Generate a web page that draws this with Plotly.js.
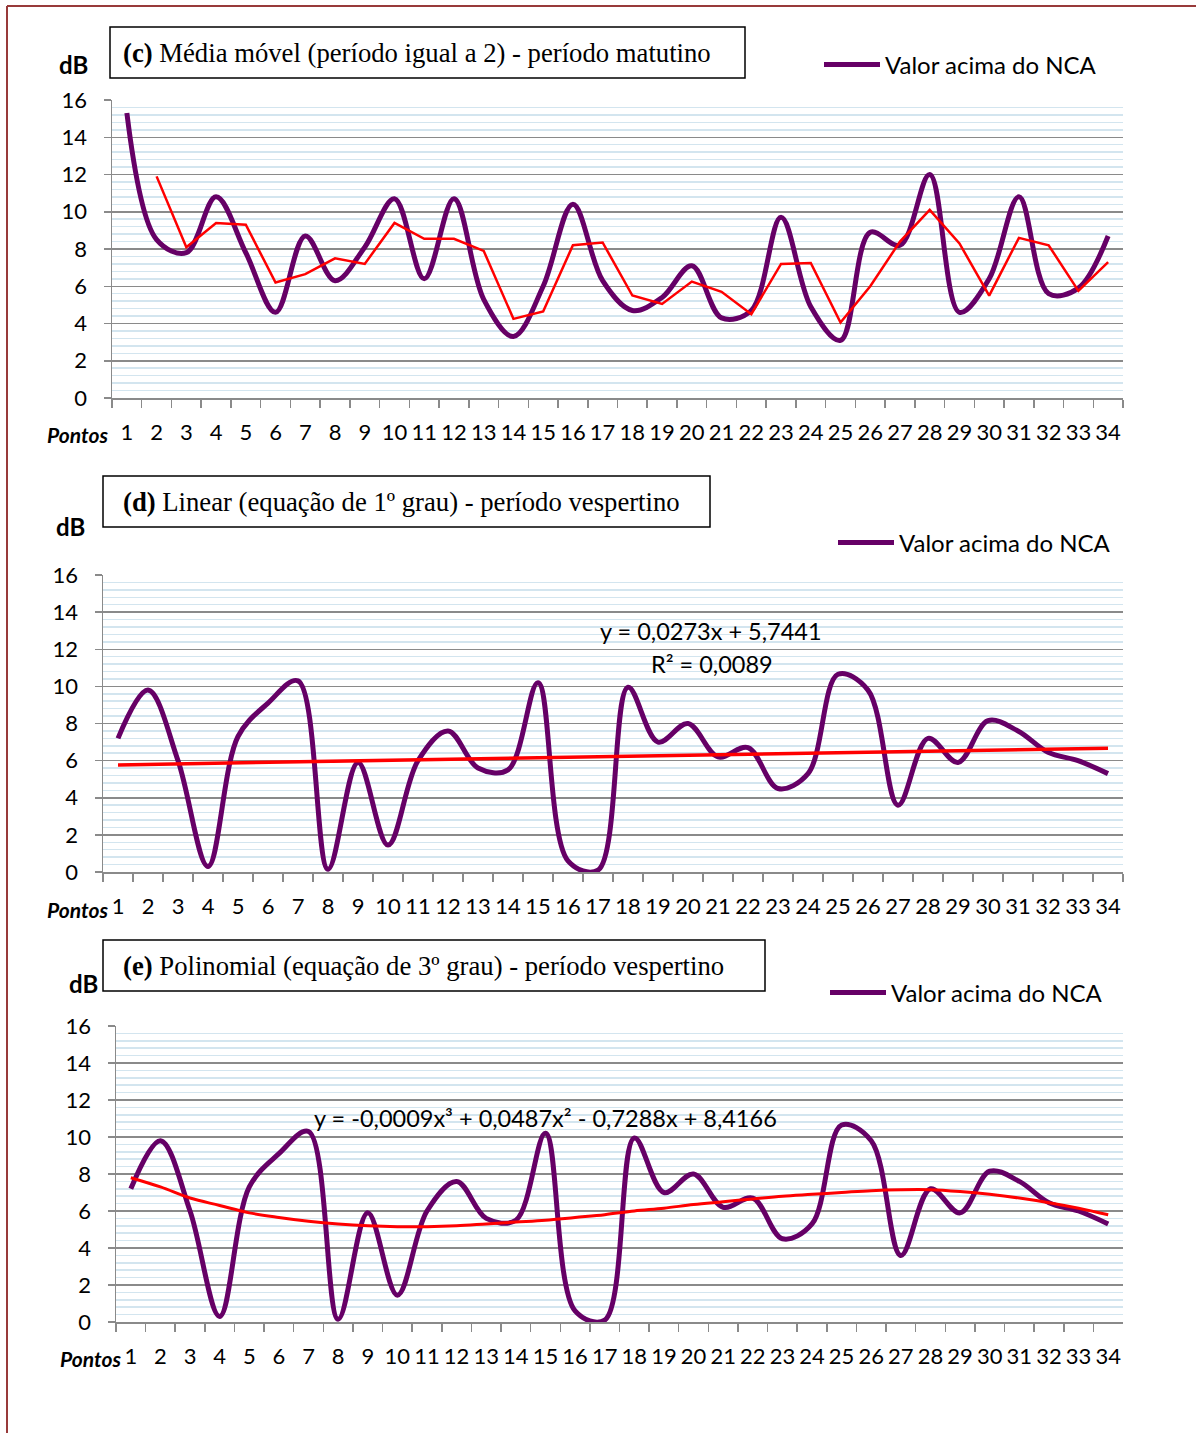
<!DOCTYPE html>
<html>
<head>
<meta charset="utf-8">
<script src="https://cdn.plot.ly/plotly-3.0.1.min.js"></script>
<style>html,body{margin:0;padding:0;background:#fff;}#chart{width:1196px;height:1433px;}</style>
</head>
<body>
<div id="chart"></div>
<script>
// ---- data ----
const pontos = ['1','2','3','4','5','6','7','8','9','10','11','12','13','14','15','16','17','18','19','20','21','22','23','24','25','26','27','28','29','30','31','32','33','34'];
const yTicks = [0,2,4,6,8,10,12,14,16];

// (c) matutino
const matutino = [15.3,8.5,7.8,10.8,7.8,4.6,8.7,6.3,8.1,10.7,6.4,10.7,5.3,3.3,6.0,10.4,6.3,4.7,5.4,7.1,4.3,4.7,9.7,4.9,3.1,8.9,8.2,12.0,4.6,6.4,10.8,5.6,5.9,8.7];
const mediaMovelX = ['2','3','4','5','6','7','8','9','10','11','12','13','14','15','16','17','18','19','20','21','22','23','24','25','26','27','28','29','30','31','32','33','34'];
const mediaMovel = [11.9,8.1,9.4,9.3,6.2,6.65,7.5,7.2,9.4,8.55,8.55,7.9,4.25,4.65,8.2,8.35,5.5,5.05,6.25,5.7,4.5,7.2,7.25,4.05,6.0,8.4,10.1,8.3,5.5,8.6,8.2,5.75,7.3];

// (d)/(e) vespertino
const vespertino = [7.2,9.8,6.0,0.3,7.3,9.1,10.3,0.15,5.9,1.45,6.0,7.6,5.6,5.5,10.2,0.6,0.1,9.95,7.0,8.0,6.2,6.7,4.5,5.3,10.65,9.8,3.6,7.2,5.9,8.15,7.6,6.45,6.0,5.3];
const linearX = ['1','34'];
const linearY = [5.77,6.67];
const polinomial = [7.8,7.3,6.7,6.3,5.9,5.65,5.45,5.3,5.2,5.15,5.15,5.2,5.3,5.4,5.5,5.65,5.8,6.0,6.15,6.35,6.5,6.65,6.8,6.9,7.0,7.1,7.15,7.15,7.05,6.9,6.7,6.45,6.15,5.8];

const serieNome = 'Valor acima do NCA';
const titulos = ['<b>(c)</b> Média móvel (período igual a 2) - período matutino',
                 '<b>(d)</b> Linear (equação de 1º grau) - período vespertino',
                 '<b>(e)</b> Polinomial (equação de 3º grau) - período vespertino'];
const eqLinear = 'y = 0,0273x + 5,7441';
const r2Linear = 'R² = 0,0089';
const eqPoli = 'y = -0,0009x³ + 0,0487x² - 0,7288x + 8,4166';

// ---- layout helpers ----
const W = 1196, H = 1433;
const px = v => v / W;
const py = v => 1 - v / H;
const SANS = 'Lato, Carlito, Calibri, sans-serif';
const SERIF = '"Liberation Serif", "Times New Roman", serif';
const PURPLE = '#660066', RED = '#ff0000', GRID = '#8a8a8a', MINOR = '#d3e5ef';

function xAxis(x0, x1, anchor) {
  return {
    domain: [px(x0), px(x1)], anchor: anchor,
    type: 'category', categoryorder: 'array', categoryarray: pontos,
    range: [-0.5, pontos.length - 0.5],
    tickson: 'boundaries', ticks: 'outside', ticklen: 8, tickwidth: 1.5, tickcolor: GRID,
    showline: true, linecolor: GRID, linewidth: 1.5, showgrid: false, zeroline: false,
    tickangle: 0,
    tickfont: {family: SANS, size: 22, color: '#000'}, ticklabelstandoff: 14,
    fixedrange: true
  };
}
function yAxis(y0, y1, anchor) {
  return {
    domain: [py(y1), py(y0)], anchor: anchor,
    range: [0, 16], tickmode: 'array', tickvals: yTicks,
    ticks: 'outside', ticklen: 7, tickwidth: 1.5, tickcolor: GRID,
    showline: true, linecolor: GRID, linewidth: 1.5,
    showgrid: true, gridcolor: GRID, gridwidth: 1.5, zeroline: false,
    minor: {tickmode: 'linear', tick0: 0, dtick: 0.4, showgrid: true, gridcolor: MINOR, gridwidth: 1.5, ticks: ''},
    tickfont: {family: SANS, size: 22, color: '#000'}, ticklabelstandoff: 12,
    fixedrange: true
  };
}

const traces = [
  {x: pontos, y: matutino, xaxis: 'x', yaxis: 'y', type: 'scatter', mode: 'lines', name: serieNome,
   line: {color: PURPLE, width: 5, shape: 'spline'}, legend: 'legend'},
  {x: mediaMovelX, y: mediaMovel, xaxis: 'x', yaxis: 'y', type: 'scatter', mode: 'lines', showlegend: false,
   line: {color: RED, width: 2.5}},
  {x: pontos, y: vespertino, xaxis: 'x2', yaxis: 'y2', type: 'scatter', mode: 'lines', name: serieNome,
   line: {color: PURPLE, width: 5, shape: 'spline'}, legend: 'legend2'},
  {x: linearX, y: linearY, xaxis: 'x2', yaxis: 'y2', type: 'scatter', mode: 'lines', showlegend: false,
   line: {color: RED, width: 3.5}},
  {x: pontos, y: vespertino, xaxis: 'x3', yaxis: 'y3', type: 'scatter', mode: 'lines', name: serieNome,
   line: {color: PURPLE, width: 5, shape: 'spline'}, legend: 'legend3'},
  {x: pontos, y: polinomial, xaxis: 'x3', yaxis: 'y3', type: 'scatter', mode: 'lines', showlegend: false,
   line: {color: RED, width: 3, shape: 'spline'}}
];

function leg(x, y) {
  return {x: px(x), y: py(y), xref: 'paper', yref: 'paper', xanchor: 'left', yanchor: 'middle',
          bgcolor: 'rgba(0,0,0,0)', borderwidth: 0, itemwidth: 56,
          font: {family: SANS, size: 24, color: '#000'}};
}

function ann(text, x, y, opts) {
  return Object.assign({text: text, x: px(x), y: py(y), xref: 'paper', yref: 'paper',
    showarrow: false, xanchor: 'left', yanchor: 'middle',
    font: {family: SANS, size: 23.5, color: '#000'}}, opts || {});
}
const TFONT = {family: SERIF, size: 26.7, color: '#000'};
const DBFONT = {family: SANS, size: 24, color: '#000'};
const PFONT = {family: SANS, size: 21, color: '#000'};

const annotations = [
  ann(titulos[0], 121, 53, {font: TFONT}),
  ann(titulos[1], 121, 502, {font: TFONT}),
  ann(titulos[2], 121, 966, {font: TFONT}),
  ann('<b>dB</b>', 57, 65, {font: DBFONT}),
  ann('<b>dB</b>', 54, 527, {font: DBFONT}),
  ann('<b>dB</b>', 67, 983, {font: DBFONT}),
  ann('<b><i>Pontos</i></b>', 110, 435, {xanchor: 'right', font: PFONT}),
  ann('<b><i>Pontos</i></b>', 110, 909, {xanchor: 'right', font: PFONT}),
  ann('<b><i>Pontos</i></b>', 123, 1358, {xanchor: 'right', font: PFONT}),
  ann(eqLinear, 711, 631, {xanchor: 'center'}),
  ann(r2Linear, 712, 664, {xanchor: 'center'}),
  ann(eqPoli, 545, 1118, {xanchor: 'center'})
];

function box(x0, y0, x1, y1) {
  return {type: 'rect', xref: 'paper', yref: 'paper', x0: px(x0), x1: px(x1), y0: py(y1), y1: py(y0),
          line: {color: '#000', width: 1.5}, fillcolor: '#fff', layer: 'above'};
}
const BORDER = '#983a3a';
const shapes = [
  box(110, 27, 745, 78),
  box(103, 476, 710, 527),
  box(103, 940, 765, 991),
  {type: 'line', xref: 'paper', yref: 'paper', x0: px(7), x1: px(1196), y0: py(6), y1: py(6), line: {color: BORDER, width: 2}},
  {type: 'line', xref: 'paper', yref: 'paper', x0: px(7), x1: px(7), y0: py(6), y1: py(1433), line: {color: BORDER, width: 2}}
];

const layout = {
  width: W, height: H, autosize: false,
  margin: {l: 0, r: 0, t: 0, b: 0},
  paper_bgcolor: '#fff', plot_bgcolor: '#fff',
  xaxis: xAxis(112, 1123, 'y'), yaxis: yAxis(100, 398, 'x'),
  xaxis2: xAxis(103, 1123, 'y2'), yaxis2: yAxis(575, 872, 'x2'),
  xaxis3: xAxis(116, 1123, 'y3'), yaxis3: yAxis(1026, 1322, 'x3'),
  legend: leg(819, 65), legend2: leg(833, 543), legend3: leg(825, 993),
  annotations: annotations, shapes: shapes,
  showlegend: true
};

Plotly.newPlot('chart', traces, layout, {displayModeBar: false, staticPlot: true});
</script>
</body>
</html>
